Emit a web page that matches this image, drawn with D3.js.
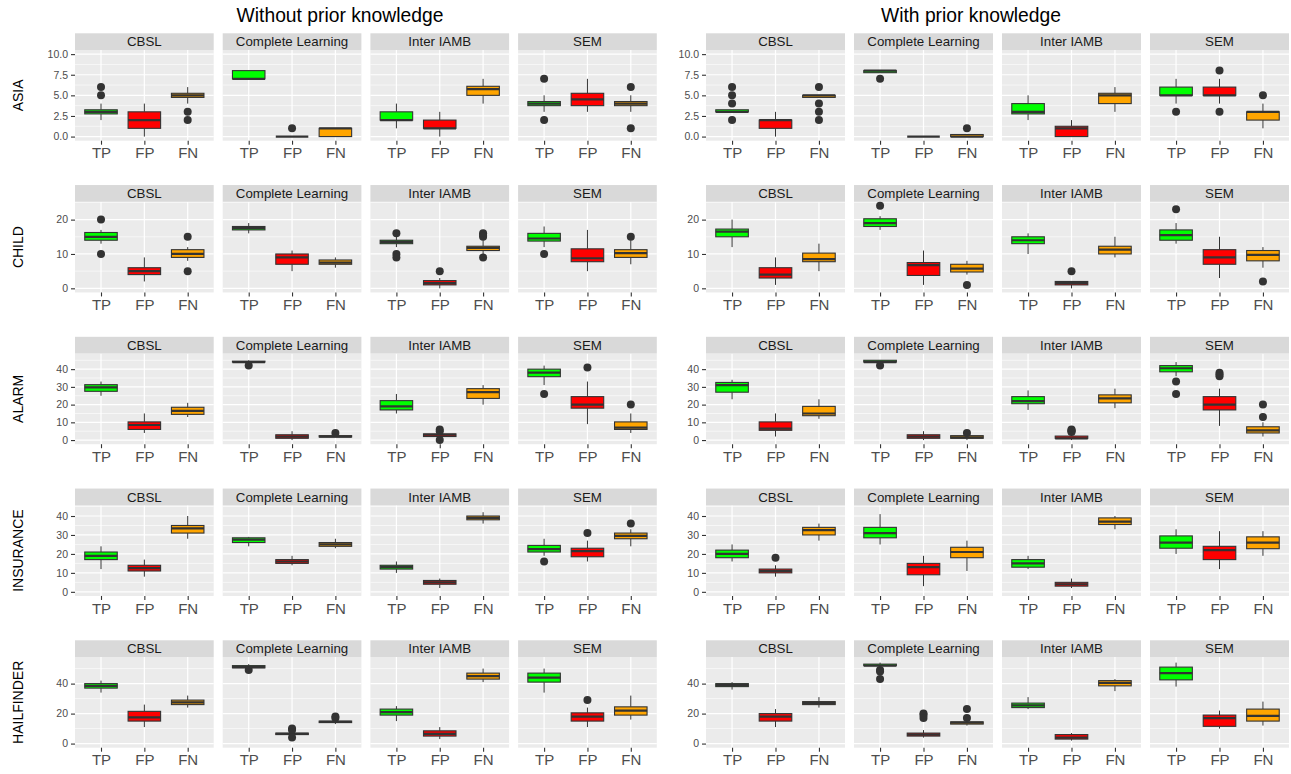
<!DOCTYPE html>
<html>
<head>
<meta charset="utf-8">
<script src="https://cdn.jsdelivr.net/npm/d3@7"></script>
<style>
  body { margin: 0; background: #ffffff; }
  text { font-family: "Liberation Sans", Arial, Helvetica, sans-serif; }
</style>
</head>
<body>
<svg id="chart" width="1291" height="774"></svg>
<script>
// ---- Labels ----
const halfTitles = ["Without prior knowledge", "With prior knowledge"];
const datasets = ["ASIA", "CHILD", "ALARM", "INSURANCE", "HAILFINDER"];
const methods = ["CBSL", "Complete Learning", "Inter IAMB", "SEM"];
const metrics = ["TP", "FP", "FN"];
const metricColors = ["#00FF00", "#FF0000", "#FFA500"];

// ---- Box statistics ----
// each entry: [lower whisker, Q1, median, Q3, upper whisker, [outliers]]
// order: CBSL TP/FP/FN, Complete Learning TP/FP/FN, Inter IAMB TP/FP/FN, SEM TP/FP/FN
const asiaWithout = [
  [2, 2.75, 3, 3.25, 4, [5, 6]],
  [0, 1, 2, 3, 4, []],
  [4, 4.75, 5, 5.25, 6, [3, 2]],
  [7, 7, 7, 8, 8, []],
  [0, 0, 0, 0, 0, [1]],
  [0, 0, 1, 1, 1, []],
  [1, 2, 2, 3, 4, []],
  [0, 1, 1, 2, 3, []],
  [4, 5, 5.75, 6.1, 7, []],
  [3, 3.75, 4, 4.25, 5, [7, 2]],
  [3, 3.75, 4.5, 5.25, 7, []],
  [3, 3.75, 4, 4.25, 5, [6, 1]]
];
const asiaWith = [
  [3, 3, 3, 3.25, 3.25, [6, 5, 4, 2]],
  [0, 1, 2, 2, 3, []],
  [4.75, 4.75, 5, 5, 5, [6, 4, 3, 2]],
  [7.75, 7.75, 8, 8, 8, [7]],
  [0, 0, 0, 0, 0, []],
  [0, 0, 0, 0.25, 0.25, [1]],
  [2, 2.75, 3, 4, 5, []],
  [0, 0, 1, 1.25, 2, []],
  [3, 4, 5, 5.25, 6, []],
  [4, 5, 5, 6, 7, [3]],
  [4, 5, 5, 6, 7, [8, 3]],
  [1, 2, 3, 3, 4, [5]]
];
const childWithout = [
  [13, 14, 15, 16.25, 17, [20, 10]],
  [2, 4, 5, 6, 9, []],
  [8, 9, 10, 11.25, 12, [15, 5]],
  [16, 17, 17.5, 18, 19, []],
  [5, 7, 9, 10, 11, []],
  [6, 7, 7.5, 8.25, 9, []],
  [12, 13, 13.5, 14, 15, [16, 10, 9]],
  [0, 1, 1.5, 2.25, 3, [5]],
  [10, 11, 11.75, 12.25, 14, [16, 15.5, 15, 9]],
  [12, 13.75, 14.5, 16, 18, [10]],
  [5, 7.75, 8.75, 11.5, 17, []],
  [7, 9, 10.25, 11.25, 14, [15]]
];
const childWith = [
  [12, 15, 16.5, 17.25, 20, []],
  [1, 3, 4, 6, 9, []],
  [5, 7.75, 8.5, 10.25, 13, []],
  [17, 18, 19, 20.25, 21, [24]],
  [1, 3.75, 6.75, 7.5, 11, []],
  [4, 4.75, 5.75, 7, 8, [1]],
  [10, 13, 14, 15, 16, []],
  [0, 1, 1.5, 2, 2, [5]],
  [9, 10, 11.25, 12.25, 15, []],
  [13, 14, 15.5, 17, 19, [23]],
  [3, 7, 9, 11.25, 15, []],
  [6, 8, 9.75, 11, 12, [2]]
];
const alarmWithout = [
  [25, 27.5, 29.75, 31.25, 33, []],
  [4, 6, 8.5, 10.25, 15, []],
  [13, 14.5, 16.5, 18.5, 21, []],
  [44, 44, 44, 44.5, 45, [42]],
  [0, 1, 2, 3, 5, []],
  [1.75, 1.75, 2, 2.5, 2.5, [4]],
  [15, 17, 19, 22.25, 26, []],
  [1, 2, 3, 3.5, 4, [6, 5, 0]],
  [20, 23.5, 27, 29, 31, []],
  [31, 35.75, 38, 40, 42, [26]],
  [9, 18, 20, 24.5, 33, [41]],
  [4, 6, 7, 10.25, 15, [20]]
];
const alarmWith = [
  [23, 27, 31, 32.5, 34, []],
  [2, 5.5, 6.5, 10.25, 15, []],
  [12, 13.75, 15, 19, 23, []],
  [44, 44, 44, 45, 45, [42]],
  [0, 1, 2, 3, 5, []],
  [0, 1, 1.5, 2.5, 3, [4]],
  [17, 20.5, 22, 24.5, 28, []],
  [0, 1, 1, 2.25, 3, [6, 5.5, 5, 4.5]],
  [18, 21, 23.5, 25.5, 29, []],
  [36, 38.5, 40.5, 42, 44, [33, 26]],
  [8, 17, 20, 24.5, 29, [38, 37, 36]],
  [2, 4, 5.5, 7.5, 10, [20, 13]]
];
const insuranceWithout = [
  [12, 17, 19, 21, 24, []],
  [8, 11, 12.5, 14, 17, []],
  [28, 31, 33.5, 35, 40, []],
  [24, 26, 27.5, 28.5, 29, []],
  [14, 15, 16, 17, 19, []],
  [23, 24, 25, 26, 28, []],
  [10, 12, 13, 14, 16, []],
  [2, 4, 5, 6, 7, []],
  [36, 38, 39, 40, 42, []],
  [19, 21, 22.5, 24.5, 28, [16]],
  [16, 18.5, 21.5, 23, 27, [31]],
  [24, 28, 29.5, 31, 33, [36]]
];
const insuranceWith = [
  [16, 18, 20, 22, 25, []],
  [8, 10, 11, 12, 14, [18]],
  [27, 30, 32.5, 34, 36, []],
  [25, 28.5, 31, 34, 41, []],
  [3, 9, 13, 15, 19, []],
  [11, 18, 21, 23.5, 27, []],
  [12, 13, 15, 17, 19, []],
  [2, 3, 4, 5, 7, []],
  [33, 35.5, 37, 39, 40, []],
  [20, 23, 26, 29.5, 33, []],
  [12, 17, 22, 24, 32, []],
  [19, 22.75, 26, 29, 32, []]
];
const hailfinderWithout = [
  [34, 37, 38.5, 40, 42, []],
  [11, 15, 17.5, 21.5, 26, []],
  [24, 26, 27.5, 29, 32, []],
  [50.5, 50.5, 51, 52, 53, [49]],
  [5.5, 6, 6.5, 7, 7.5, [10, 9, 4]],
  [13, 14, 14.5, 15, 16, [17, 18]],
  [15, 19, 21, 23, 25, []],
  [3, 5, 6.5, 8.5, 11, []],
  [41, 43, 45, 47, 50, []],
  [34, 41, 44, 47, 50, []],
  [11, 15, 18, 20.5, 24, [29]],
  [16, 19, 22, 24.5, 32, []]
];
const hailfinderWith = [
  [36, 38, 39, 40, 41, []],
  [11, 15, 18, 20, 23, []],
  [24, 26, 27, 28, 31, []],
  [51, 52, 52, 53, 54, [49, 48, 43]],
  [4, 5, 6, 7, 9, [20, 19, 17]],
  [12, 13, 14, 14.5, 16, [23, 17]],
  [23, 24, 25.5, 27, 31, []],
  [2, 3, 4, 6, 7, []],
  [35, 38.5, 40.5, 42, 43, []],
  [38, 42.5, 47, 51, 54, []],
  [10, 11.5, 17, 19, 22, []],
  [12, 15, 18.5, 23, 28, []]
];

// ---- Y axis settings per dataset row ----
const yLimits = [[0, 10], [0, 24], [0, 46.5], [0, 43.5], [0, 55]];
const yTicks = [[0, 2.5, 5, 7.5, 10], [0, 10, 20], [0, 10, 20, 30, 40], [0, 10, 20, 30, 40], [0, 20, 40]];
const yTickFormats = [".1f", "d", "d", "d", "d"];

const statsByHalf = [
  [asiaWithout, childWithout, alarmWithout, insuranceWithout, hailfinderWithout],
  [asiaWith, childWith, alarmWith, insuranceWith, hailfinderWith]
];

// ---- Layout ----
const svg = d3.select("#chart");
const halfX0 = [75, 706];
const halfStride = [147.7, 148];
const halfPanelW = [138.7, 139];
const halfTitleX = [340, 971];
const rowTop0 = 33.3, rowStride = 151.75, stripH = 16.7, panelH = 90.7;
const boxFrac = 0.75;
const ink = "#333333";

halfTitles.forEach((t, h) => {
  svg.append("text")
    .attr("x", halfTitleX[h]).attr("y", 21.5)
    .attr("text-anchor", "middle")
    .attr("font-size", "19.3px").attr("fill", "#000")
    .text(t);
});

// minor breaks: midpoints between major ticks, one step beyond each end, kept inside the domain
function minorBreaks(ticks, domain) {
  const step = ticks[1] - ticks[0];
  const out = [];
  for (let v = ticks[0] - step / 2; v <= ticks[ticks.length - 1] + step / 2 + 1e-9; v += step) {
    if (v >= domain[0] && v <= domain[1]) out.push(v);
  }
  return out;
}

for (let h = 0; h < 2; h++) {
  for (let r = 0; r < datasets.length; r++) {
    const lim = yLimits[r];
    const pad = 0.05 * (lim[1] - lim[0]);
    const domain = [lim[0] - pad, lim[1] + pad];
    const stripTop = rowTop0 + r * rowStride;
    const pt = stripTop + stripH;
    const pb = pt + panelH;
    const y = d3.scaleLinear().domain(domain).range([pb, pt]);
    const minors = minorBreaks(yTicks[r], domain);
    const rowStats = statsByHalf[h][r];

    for (let m = 0; m < methods.length; m++) {
      const px = halfX0[h] + m * halfStride[h];
      const pw = halfPanelW[h];
      const x = d3.scalePoint().domain(metrics).range([px, px + pw]).padding(0.6);
      const g = svg.append("g");

      // panel background and grid
      g.append("rect").attr("x", px).attr("y", pt).attr("width", pw).attr("height", panelH)
        .attr("fill", "#EBEBEB");
      g.selectAll(".minor").data(minors).join("line")
        .attr("x1", px).attr("x2", px + pw)
        .attr("y1", d => y(d)).attr("y2", d => y(d))
        .attr("stroke", "#fff").attr("stroke-width", 0.6);
      g.selectAll(".major").data(yTicks[r]).join("line")
        .attr("x1", px).attr("x2", px + pw)
        .attr("y1", d => y(d)).attr("y2", d => y(d))
        .attr("stroke", "#fff").attr("stroke-width", 1.2);
      g.selectAll(".vmajor").data(metrics).join("line")
        .attr("x1", d => x(d)).attr("x2", d => x(d))
        .attr("y1", pt).attr("y2", pb)
        .attr("stroke", "#fff").attr("stroke-width", 1.2);

      // strip
      g.append("rect").attr("x", px).attr("y", stripTop).attr("width", pw).attr("height", stripH)
        .attr("fill", "#D9D9D9");
      g.append("text").attr("x", px + pw / 2).attr("y", stripTop + stripH / 2 + 4.7)
        .attr("text-anchor", "middle").attr("font-size", "13.3px").attr("fill", "#1A1A1A")
        .text(methods[m]);

      // boxes
      const bw = boxFrac * x.step();
      metrics.forEach((k, ki) => {
        const s = rowStats[m * 3 + ki];
        const cx = x(k);
        const bg = g.append("g");
        bg.append("line").attr("x1", cx).attr("x2", cx).attr("y1", y(s[0])).attr("y2", y(s[1]))
          .attr("stroke", ink).attr("stroke-width", 1);
        bg.append("line").attr("x1", cx).attr("x2", cx).attr("y1", y(s[3])).attr("y2", y(s[4]))
          .attr("stroke", ink).attr("stroke-width", 1);
        bg.append("rect").attr("x", cx - bw / 2).attr("y", y(s[3]))
          .attr("width", bw).attr("height", Math.max(0, y(s[1]) - y(s[3])))
          .attr("fill", metricColors[ki]).attr("stroke", ink).attr("stroke-width", 1.1);
        bg.append("line").attr("x1", cx - bw / 2).attr("x2", cx + bw / 2)
          .attr("y1", y(s[2])).attr("y2", y(s[2]))
          .attr("stroke", ink).attr("stroke-width", 2.2);
        bg.selectAll("circle").data(s[5]).join("circle")
          .attr("cx", cx).attr("cy", d => y(d)).attr("r", 4)
          .attr("fill", ink);
      });

      // x axis
      const xa = g.append("g").attr("transform", `translate(0,${pb})`)
        .call(d3.axisBottom(x).tickSize(4).tickPadding(3));
      xa.select(".domain").remove();
      xa.selectAll(".tick line").attr("stroke", ink).attr("stroke-width", 1.1);
      xa.selectAll(".tick text").attr("fill", "#4D4D4D").attr("font-size", "15px")
        .attr("font-family", "Liberation Sans, Arial, sans-serif");

      // y axis on first panel of each half
      if (m === 0) {
        const ya = g.append("g").attr("transform", `translate(${px},0)`)
          .call(d3.axisLeft(y).tickValues(yTicks[r]).tickFormat(d3.format(yTickFormats[r]))
            .tickSize(4).tickPadding(3));
        ya.select(".domain").remove();
        ya.selectAll(".tick line").attr("stroke", ink).attr("stroke-width", 1.1);
        ya.selectAll(".tick text").attr("fill", "#4D4D4D").attr("font-size", "10.5px")
          .attr("font-family", "Liberation Sans, Arial, sans-serif");
      }

      // row label
      if (h === 0 && m === 0) {
        svg.append("text")
          .attr("transform", `translate(23,${(pt + pb) / 2}) rotate(-90)`)
          .attr("text-anchor", "middle").attr("font-size", "14px").attr("fill", "#000")
          .text(datasets[r]);
      }
    }
  }
}
</script>
</body>
</html>
